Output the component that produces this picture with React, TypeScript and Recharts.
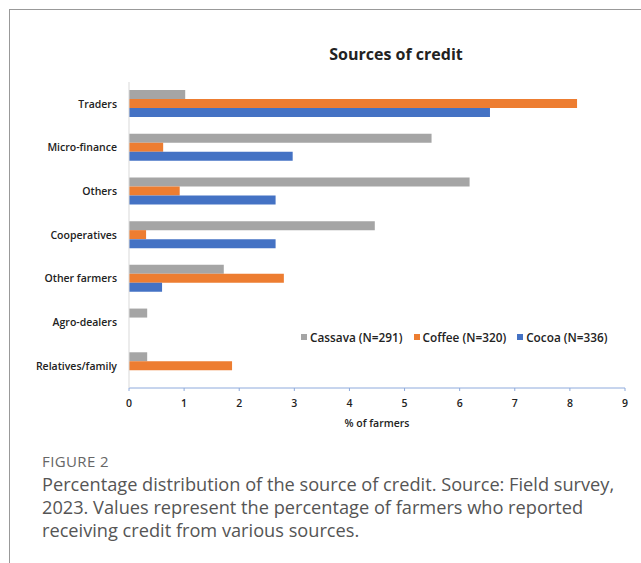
import { BarChart, Bar, XAxis, YAxis } from 'recharts';

const categories = ['Traders', 'Micro-finance', 'Others', 'Cooperatives', 'Other farmers', 'Agro-dealers', 'Relatives/family'];
const cassava = [1.02, 5.49, 6.18, 4.46, 1.72, 0.33, 0.33];
const coffee = [8.13, 0.62, 0.92, 0.31, 2.81, 0, 1.87];
const cocoa = [6.55, 2.97, 2.66, 2.66, 0.6, 0, 0];
const xTicks = [0, 1, 2, 3, 4, 5, 6, 7, 8, 9];

const series = [
  { key: 'cassava', name: 'Cassava (N=291)', color: '#a5a5a5' },
  { key: 'coffee', name: 'Coffee (N=320)', color: '#ed7d31' },
  { key: 'cocoa', name: 'Cocoa (N=336)', color: '#4472c4' },
];

const data = categories.map((name, i) => ({
  name,
  cassava: cassava[i],
  coffee: coffee[i],
  cocoa: cocoa[i],
}));

const font = '"Open Sans", sans-serif';
const tickStyle = { fill: '#222', fontSize: 10.5, fontWeight: 600, fontFamily: font };

export default function App() {
  return (
    <div style={{ position: 'fixed', left: 0, top: 0, width: 641, height: 563, background: '#fff', overflow: 'hidden', fontFamily: font }}>
      <div style={{ position: 'absolute', left: 9, top: 9, width: 700, height: 600, borderLeft: '1px solid #999', borderTop: '1px solid #999' }} />
      <div style={{ position: 'absolute', left: 296, top: 43, width: 200, textAlign: 'center', fontSize: 16, fontWeight: 700, color: '#222' }}>
        Sources of credit
      </div>
      <div style={{ position: 'absolute', left: 0, top: 0 }}>
        <BarChart
          width={641}
          height={440}
          data={data}
          layout="vertical"
          margin={{ top: 82, right: 16, bottom: 22, left: 0 }}
          barSize={9}
          barGap={0}
        >
          <XAxis
            type="number"
            domain={[0, 9]}
            ticks={xTicks}
            stroke="#8eaadc"
            tickSize={3}
            height={30}
            tick={tickStyle}
            tickMargin={9}
            label={{ value: '% of farmers', position: 'insideBottom', offset: -9, ...tickStyle }}
          />
          <YAxis
            type="category"
            dataKey="name"
            width={129}
            stroke="#d9d9d9"
            tickLine={false}
            tickMargin={6}
            interval={0}
            tick={tickStyle}
          />
          {series.map((s) => (
            <Bar key={s.key} dataKey={s.key} name={s.name} fill={s.color} isAnimationActive={false} />
          ))}
        </BarChart>
      </div>
      <div style={{ position: 'absolute', left: 301, top: 329, display: 'flex', gap: 11, fontSize: 11.8, fontWeight: 600, color: '#222', whiteSpace: 'nowrap' }}>
        {series.map((s) => (
          <div key={s.key} style={{ display: 'flex', alignItems: 'center', gap: 3 }}>
            <span style={{ display: 'inline-block', width: 6, height: 6, background: s.color }} />
            <span>{s.name}</span>
          </div>
        ))}
      </div>
      <div style={{ position: 'absolute', left: 42, top: 451, fontSize: 15, color: '#666', letterSpacing: 0.4 }}>FIGURE 2</div>
      <div style={{ position: 'absolute', left: 42, top: 473, fontSize: 18.2, lineHeight: '23px', color: '#555', whiteSpace: 'nowrap' }}>
        Percentage distribution of the source of credit. Source: Field survey,
        <br />
        2023. Values represent the percentage of farmers who reported
        <br />
        receiving credit from various sources.
      </div>
    </div>
  );
}
